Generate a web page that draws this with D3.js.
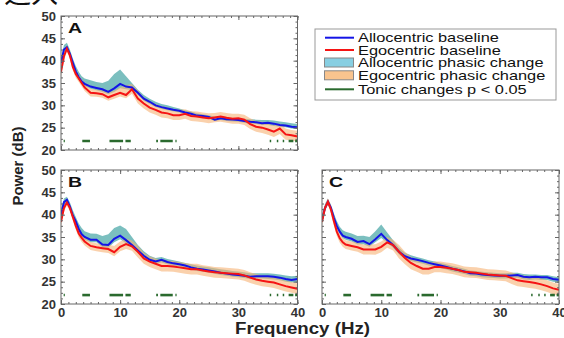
<!DOCTYPE html>
<html>
<head>
<meta charset="utf-8">
<script src="https://cdn.jsdelivr.net/npm/d3@7"></script>
<style>
  html, body { margin: 0; padding: 0; background: #fff; }
  svg { display: block; font-family: "Liberation Sans", Arial, sans-serif; }
</style>
</head>
<body>
<div id="chart"></div>
<script>
const W = 564, H = 338;

// frequency grid (Hz)
const freqs = [0, 0.5, 1, 1.5, 2, 2.5, 3, 3.5, 4, 5, 6, 7, 8, 9, 10, 11, 12, 13, 14, 15, 16, 17, 18, 19, 20,
  21, 22, 23, 24, 25, 26, 27, 28, 29, 30, 31, 32, 33, 34, 35, 36, 37, 38, 39, 40];

// panel A
const aAllo = [39.5, 42.5, 43.0, 41.5, 39.5, 37.6, 36.3, 35.3, 34.8, 34.2, 33.9, 33.6, 33.0, 33.8, 34.8, 34.2, 34.0, 32.8, 31.5, 30.8, 30.0, 29.6, 29.3, 29.0, 28.8,
  28.4, 28.1, 27.7, 27.6, 27.4, 26.8, 27.1, 26.9, 26.8, 26.7, 26.5, 26.3, 26.2, 26.0, 26.1, 25.9, 25.6, 25.5, 25.2, 25.1];
const aEgo = [37.5, 41.0, 42.7, 41.2, 38.6, 37.0, 36.0, 35.0, 34.0, 32.8, 32.7, 32.5, 31.8, 32.3, 32.8, 32.3, 33.6, 31.5, 30.4, 29.5, 29.0, 28.4, 28.2, 27.8, 27.8,
  28.1, 27.6, 27.5, 27.3, 27.1, 27.3, 27.5, 27.2, 27.0, 27.1, 26.8, 25.8, 25.2, 25.0, 24.6, 24.1, 24.8, 23.5, 23.3, 23.0];
const aAlloHi = [40.5, 43.5, 44.0, 42.5, 40.5, 38.8, 37.5, 36.5, 36.0, 35.6, 35.2, 35.0, 35.5, 37.0, 38.0, 36.5, 35.0, 33.5, 32.3, 31.5, 30.8, 30.3, 30.0, 29.6, 29.3,
  28.9, 28.6, 28.2, 28.0, 27.8, 27.5, 27.5, 27.3, 27.2, 27.1, 27.0, 26.9, 26.8, 26.7, 26.7, 26.6, 26.4, 26.2, 26.0, 25.8];
const aAlloLo = [38.5, 41.8, 42.3, 40.8, 38.8, 37.0, 35.8, 34.8, 34.3, 33.7, 33.4, 33.0, 32.5, 33.0, 33.8, 33.6, 33.4, 32.3, 31.0, 30.3, 29.6, 29.2, 28.9, 28.6, 28.4,
  28.0, 27.7, 27.3, 27.2, 27.0, 26.5, 26.7, 26.5, 26.4, 26.3, 26.1, 25.9, 25.8, 25.6, 25.6, 25.4, 25.2, 25.1, 24.8, 24.7];
const aEgoHi = [38.5, 42.0, 43.3, 42.0, 39.5, 37.8, 36.8, 35.8, 34.8, 33.7, 33.5, 33.3, 32.8, 33.3, 34.0, 34.5, 34.8, 33.3, 31.8, 30.8, 30.3, 29.8, 29.5, 29.1, 29.0,
  29.1, 28.7, 28.6, 28.4, 28.2, 28.3, 28.5, 28.3, 28.1, 28.1, 27.9, 27.1, 26.5, 26.3, 25.9, 25.5, 25.9, 24.8, 24.5, 24.3];
const aEgoLo = [36.5, 40.0, 42.0, 40.4, 37.8, 36.2, 35.2, 34.2, 33.2, 32.0, 31.9, 31.7, 31.0, 31.5, 32.0, 31.6, 32.6, 30.4, 29.3, 28.4, 27.9, 27.3, 27.1, 26.7, 26.7,
  27.0, 26.5, 26.4, 26.2, 26.0, 26.2, 26.3, 26.1, 25.9, 25.9, 25.6, 24.7, 24.1, 23.8, 23.4, 22.9, 23.6, 22.3, 22.1, 21.9];

// panel B
const bAllo = [40.0, 42.8, 43.3, 41.8, 39.8, 38.5, 36.8, 35.6, 35.0, 34.4, 34.4, 33.3, 33.2, 34.6, 35.3, 34.3, 33.2, 32.0, 30.8, 29.9, 29.5, 29.9, 29.4, 29.1, 28.9,
  28.6, 28.2, 27.9, 27.7, 27.5, 27.3, 27.0, 26.8, 26.6, 26.5, 26.3, 26.1, 26.2, 26.2, 26.2, 26.1, 25.9, 25.6, 25.4, 25.6];
const bEgo = [38.4, 41.5, 42.7, 41.5, 39.5, 37.5, 35.8, 34.8, 34.0, 33.0, 32.7, 32.5, 32.3, 31.6, 32.8, 33.4, 32.9, 31.7, 30.2, 29.5, 29.0, 28.5, 28.5, 28.4, 28.2,
  28.0, 27.8, 27.8, 27.5, 27.3, 27.1, 27.0, 26.9, 26.8, 26.7, 26.4, 25.9, 25.5, 25.2, 25.0, 24.8, 24.4, 24.0, 23.7, 23.4];
const bAlloHi = [41.0, 43.6, 44.0, 42.8, 41.0, 39.5, 38.0, 37.0, 36.3, 35.8, 35.7, 35.2, 35.6, 37.0, 37.6, 36.8, 35.0, 33.2, 31.8, 30.8, 30.3, 30.5, 30.1, 29.8, 29.5,
  29.2, 28.9, 28.6, 28.4, 28.2, 28.0, 27.8, 27.6, 27.4, 27.3, 27.1, 26.9, 26.9, 26.9, 26.9, 26.8, 26.6, 26.4, 26.2, 26.3];
const bAlloLo = [39.0, 42.0, 42.6, 41.0, 39.2, 37.8, 36.2, 35.0, 34.4, 33.8, 33.8, 32.7, 32.6, 33.8, 34.5, 33.6, 32.6, 31.4, 30.3, 29.4, 29.0, 29.3, 28.9, 28.6, 28.4,
  28.1, 27.7, 27.4, 27.2, 27.0, 26.8, 26.5, 26.3, 26.1, 26.0, 25.8, 25.6, 25.7, 25.7, 25.6, 25.5, 25.3, 25.0, 24.8, 24.9];
const bEgoHi = [39.3, 42.3, 43.3, 42.3, 40.3, 38.4, 36.7, 35.7, 34.9, 33.9, 33.6, 33.4, 33.3, 33.0, 34.0, 34.6, 34.2, 33.1, 31.5, 30.7, 30.2, 29.7, 29.7, 29.6, 29.4,
  29.2, 29.0, 29.0, 28.7, 28.5, 28.3, 28.2, 28.1, 28.0, 27.9, 27.6, 27.1, 26.7, 26.4, 26.2, 26.0, 25.6, 25.2, 24.9, 24.6];
const bEgoLo = [37.5, 40.7, 42.0, 40.7, 38.7, 36.6, 34.9, 33.9, 33.1, 32.1, 31.8, 31.6, 31.4, 30.7, 31.8, 32.3, 31.9, 30.4, 29.0, 28.3, 27.8, 27.3, 27.3, 27.2, 27.0,
  26.8, 26.6, 26.6, 26.3, 26.1, 25.9, 25.8, 25.7, 25.6, 25.5, 25.2, 24.7, 24.3, 24.0, 23.8, 23.6, 23.2, 22.8, 22.5, 22.2];

// panel C
const cAllo = [38.8, 41.5, 42.9, 41.5, 39.3, 37.5, 36.2, 35.3, 35.0, 34.6, 33.9, 34.1, 33.4, 34.5, 35.7, 34.3, 33.2, 31.7, 30.7, 30.2, 29.9, 29.6, 29.2, 28.9, 28.6,
  28.3, 27.9, 27.6, 27.3, 26.9, 26.8, 26.6, 26.5, 26.4, 26.3, 26.3, 26.4, 26.5, 26.1, 26.0, 26.1, 26.0, 26.0, 25.6, 25.4];
const cEgo = [38.4, 41.5, 42.9, 41.2, 38.6, 36.2, 34.7, 33.8, 33.3, 33.0, 32.7, 32.2, 32.2, 32.2, 32.8, 33.8, 33.2, 31.7, 30.3, 29.2, 28.5, 27.9, 27.9, 28.3, 28.3,
  28.1, 27.9, 27.6, 27.2, 27.1, 27.0, 26.8, 26.6, 26.5, 26.4, 26.3, 25.8, 25.3, 25.1, 24.9, 24.7, 24.4, 24.0, 23.5, 23.2];
const cAlloHi = [39.8, 42.4, 43.6, 42.3, 40.3, 38.6, 37.3, 36.5, 36.2, 35.8, 35.2, 35.3, 35.0, 36.3, 37.8, 36.0, 34.3, 32.6, 31.5, 30.9, 30.5, 30.2, 29.8, 29.5, 29.2,
  28.9, 28.5, 28.2, 27.9, 27.5, 27.4, 27.2, 27.1, 27.0, 26.9, 26.9, 27.0, 27.0, 26.7, 26.6, 26.6, 26.5, 26.5, 26.2, 26.0];
const cAlloLo = [38.2, 40.8, 42.2, 40.8, 38.7, 36.9, 35.6, 34.7, 34.4, 34.0, 33.3, 33.4, 32.8, 33.8, 34.8, 33.7, 32.6, 31.1, 30.1, 29.6, 29.3, 29.0, 28.6, 28.3, 28.0,
  27.7, 27.3, 27.0, 26.7, 26.3, 26.2, 26.0, 25.9, 25.8, 25.7, 25.7, 25.8, 25.9, 25.5, 25.4, 25.5, 25.4, 25.4, 25.0, 24.8];
const cEgoHi = [39.2, 42.3, 43.6, 42.1, 39.6, 37.2, 35.7, 34.8, 34.3, 34.0, 33.7, 33.3, 33.3, 33.4, 34.0, 35.0, 34.4, 33.2, 31.7, 30.6, 29.8, 29.2, 29.2, 29.5, 29.5,
  29.3, 29.1, 28.8, 28.4, 28.3, 28.2, 28.0, 27.8, 27.7, 27.6, 27.5, 27.1, 26.6, 26.4, 26.2, 26.0, 25.7, 25.3, 24.8, 24.5];
const cEgoLo = [37.6, 40.7, 42.2, 40.3, 37.6, 35.2, 33.7, 32.8, 32.3, 32.0, 31.7, 31.1, 31.1, 31.0, 31.6, 32.6, 32.0, 30.2, 28.9, 27.8, 27.2, 26.6, 26.6, 27.1, 27.1,
  26.9, 26.7, 26.4, 26.0, 25.9, 25.8, 25.6, 25.4, 25.3, 25.2, 25.1, 24.5, 24.0, 23.8, 23.6, 23.4, 23.1, 22.7, 22.2, 21.9];

// tonic change segments p < 0.05 (Hz ranges), drawn at 22 dB
const tonicSegments = [[0.45, 0.65], [3.6, 4.9], [8.2, 10.5], [10.9, 11.8], [16.1, 16.4], [16.8, 18.9], [19.35, 19.55],
  [35.3, 35.55], [36.5, 36.75], [37.5, 37.75], [38.5, 39.3], [39.6, 40]];
const tonicLevel = 22;

const yTicks = [20, 25, 30, 35, 40, 45, 50];
const xTicks = [0, 10, 20, 30, 40];
const legendLabels = ['Allocentric baseline', 'Egocentric baseline', 'Allocentric phasic change',
  'Egocentric phasic change', 'Tonic changes p < 0.05'];

const ALLO_COLOR = '#1414e6';
const EGO_COLOR = '#f51414';
const ALLO_BAND = '#74bcbc';
const EGO_BAND = '#f6b274';
const TONIC_COLOR = '#2a6a2e';
const FRAME = '#666';

const panels = [
  { id: 'A', x: 61, y: 16, w: 236.5, h: 134, yLabels: true, xLabels: false,
    allo: aAllo, ego: aEgo, alloHi: aAlloHi, alloLo: aAlloLo, egoHi: aEgoHi, egoLo: aEgoLo },
  { id: 'B', x: 61, y: 170, w: 236.5, h: 134, yLabels: true, xLabels: true,
    allo: bAllo, ego: bEgo, alloHi: bAlloHi, alloLo: bAlloLo, egoHi: bEgoHi, egoLo: bEgoLo },
  { id: 'C', x: 322, y: 170, w: 237, h: 134, yLabels: false, xLabels: true,
    allo: cAllo, ego: cEgo, alloHi: cAlloHi, alloLo: cAlloLo, egoHi: cEgoHi, egoLo: cEgoLo }
];

const svg = d3.select('#chart').append('svg')
  .attr('width', W)
  .attr('height', H);

svg.append('rect').attr('width', W).attr('height', H).attr('fill', '#fff');

// clipped caption remnant at the very top
svg.append('text')
  .attr('x', 4)
  .attr('y', 3)
  .attr('font-family', '"Noto Sans CJK SC", sans-serif')
  .attr('font-size', 27)
  .attr('fill', '#111')
  .text('進入');

const defs = svg.append('defs');

panels.forEach(p => {
  const x = d3.scaleLinear().domain([0, 40]).range([0, p.w]);
  const y = d3.scaleLinear().domain([20, 50]).range([p.h, 0]);

  const g = svg.append('g').attr('transform', `translate(${p.x},${p.y})`);

  defs.append('clipPath').attr('id', 'clip' + p.id)
    .append('rect').attr('width', p.w).attr('height', p.h);

  const plot = g.append('g').attr('clip-path', `url(#clip${p.id})`);

  const band = (hi, lo) => d3.area()
    .x((d, i) => x(freqs[i]))
    .y0((d, i) => y(lo[i]))
    .y1((d, i) => y(hi[i]));

  const line = vals => d3.line()
    .x((d, i) => x(freqs[i]))
    .y((d, i) => y(vals[i]));

  plot.append('path')
    .attr('d', band(p.alloHi, p.alloLo)(freqs))
    .attr('fill', ALLO_BAND)
    .attr('fill-opacity', 0.95);

  plot.append('path')
    .attr('d', band(p.egoHi, p.egoLo)(freqs))
    .attr('fill', EGO_BAND)
    .attr('fill-opacity', 0.6);

  plot.append('path')
    .attr('d', line(p.allo)(freqs))
    .attr('fill', 'none')
    .attr('stroke', ALLO_COLOR)
    .attr('stroke-width', 2);

  plot.append('path')
    .attr('d', line(p.ego)(freqs))
    .attr('fill', 'none')
    .attr('stroke', EGO_COLOR)
    .attr('stroke-width', 2);

  plot.selectAll('line.tonic')
    .data(tonicSegments)
    .enter()
    .append('line')
    .attr('class', 'tonic')
    .attr('x1', d => x(d[0]))
    .attr('x2', d => x(d[1]))
    .attr('y1', y(tonicLevel))
    .attr('y2', y(tonicLevel))
    .attr('stroke', TONIC_COLOR)
    .attr('stroke-width', 2.6);

  // minor ticks on all sides
  const minorX = d3.range(0, 40.001, 1.25);
  const minorY = d3.range(20, 50.001, 1.25);
  const tickStyle = sel => {
    sel.select('.domain').remove();
    sel.selectAll('line').attr('stroke', FRAME);
    sel.selectAll('text').remove();
  };
  g.append('g').attr('transform', `translate(0,${p.h})`)
    .call(d3.axisBottom(x).tickValues(minorX).tickSizeInner(-2).tickSizeOuter(0)).call(tickStyle);
  g.append('g')
    .call(d3.axisTop(x).tickValues(minorX).tickSizeInner(-2).tickSizeOuter(0)).call(tickStyle);
  g.append('g')
    .call(d3.axisLeft(y).tickValues(minorY).tickSizeInner(-2).tickSizeOuter(0)).call(tickStyle);
  g.append('g').attr('transform', `translate(${p.w},0)`)
    .call(d3.axisRight(y).tickValues(minorY).tickSizeInner(-2).tickSizeOuter(0)).call(tickStyle);

  // major ticks
  g.append('g').attr('transform', `translate(0,${p.h})`)
    .call(d3.axisBottom(x).tickValues(xTicks).tickSizeInner(-4).tickSizeOuter(0).tickPadding(4))
    .call(sel => {
      sel.select('.domain').remove();
      sel.selectAll('line').attr('stroke', FRAME);
      sel.selectAll('text')
        .attr('font-size', 13).attr('font-weight', 'bold').attr('fill', '#333')
        .attr('font-family', '"Liberation Sans", Arial, sans-serif');
      if (!p.xLabels) sel.selectAll('text').remove();
    });
  g.append('g')
    .call(d3.axisTop(x).tickValues(xTicks).tickSizeInner(-4).tickSizeOuter(0)).call(tickStyle);
  g.append('g')
    .call(d3.axisLeft(y).tickValues(yTicks).tickSizeInner(-4).tickSizeOuter(0).tickPadding(5))
    .call(sel => {
      sel.select('.domain').remove();
      sel.selectAll('line').attr('stroke', FRAME);
      sel.selectAll('text')
        .attr('font-size', 13).attr('font-weight', 'bold').attr('fill', '#333')
        .attr('font-family', '"Liberation Sans", Arial, sans-serif');
      if (!p.yLabels) sel.selectAll('text').remove();
    });
  g.append('g').attr('transform', `translate(${p.w},0)`)
    .call(d3.axisRight(y).tickValues(yTicks).tickSizeInner(-4).tickSizeOuter(0)).call(tickStyle);

  g.append('rect')
    .attr('width', p.w)
    .attr('height', p.h)
    .attr('fill', 'none')
    .attr('stroke', FRAME)
    .attr('stroke-width', 1);

  g.append('text')
    .attr('transform', 'translate(7,16.5) scale(1.3,1)')
    .attr('font-size', 15)
    .attr('font-weight', 'bold')
    .attr('fill', '#111')
    .text(p.id);
});

// axis titles
svg.append('text')
  .attr('x', 302.5)
  .attr('y', 334)
  .attr('text-anchor', 'middle')
  .attr('font-size', 16)
  .attr('font-weight', 'bold')
  .attr('fill', '#222')
  .attr('textLength', 135)
  .attr('lengthAdjust', 'spacingAndGlyphs')
  .text('Frequency (Hz)');

svg.append('text')
  .attr('transform', 'translate(23,166) rotate(-90)')
  .attr('text-anchor', 'middle')
  .attr('font-size', 15)
  .attr('font-weight', 'bold')
  .attr('fill', '#222')
  .text('Power (dB)');

// legend
const legend = svg.append('g').attr('transform', 'translate(315,29)');
legend.append('rect')
  .attr('width', 241)
  .attr('height', 71)
  .attr('fill', '#fff')
  .attr('stroke', '#999');

const legendKinds = ['line', 'line', 'rect', 'rect', 'line'];
const legendColors = [ALLO_COLOR, EGO_COLOR, '#88cfe2', '#f9c48e', TONIC_COLOR];
const legendRowY = [8.7, 21, 33.5, 46.3, 60.3];

const rows = legend.selectAll('g.row')
  .data(legendLabels)
  .enter()
  .append('g')
  .attr('class', 'row')
  .attr('transform', (d, i) => `translate(0,${legendRowY[i]})`);

rows.each(function (d, i) {
  const r = d3.select(this);
  if (legendKinds[i] === 'line') {
    r.append('line')
      .attr('x1', 10).attr('x2', 39)
      .attr('y1', 0).attr('y2', 0)
      .attr('stroke', legendColors[i])
      .attr('stroke-width', 2);
  } else {
    r.append('rect')
      .attr('x', 9.5).attr('y', -4.5)
      .attr('width', 29).attr('height', 9)
      .attr('fill', legendColors[i])
      .attr('stroke', '#888');
  }
  r.append('text')
    .attr('transform', 'translate(43,4.5) scale(1.26,1)')
    .attr('font-size', 13)
    .attr('fill', '#111')
    .text(d);
});
</script>
</body>
</html>
